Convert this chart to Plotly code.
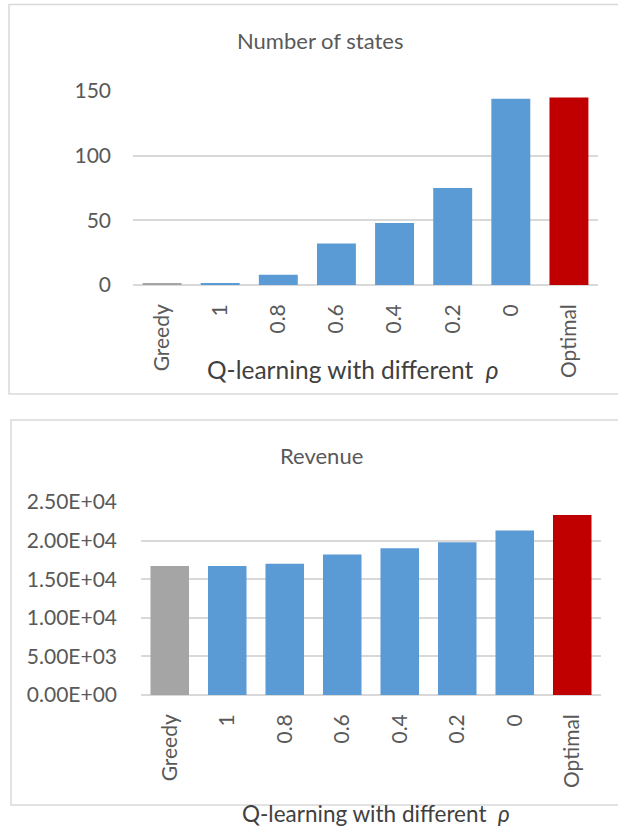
import plotly.graph_objects as go

# Categories along the x axis (Greedy, Q-learning for each rho, Optimal)
categories = ["Greedy", "1", "0.8", "0.6", "0.4", "0.2", "0", "Optimal"]

# Number of states visited by each method
num_states = [1, 1, 8, 32, 48, 75, 144, 145]

# Revenue achieved by each method
revenue = [16700, 16700, 17000, 18200, 19000, 19800, 21300, 23300]

# Tick values / labels for both value axes
states_ticks = [0, 50, 100, 150]
revenue_ticks = [0, 5000, 10000, 15000, 20000, 25000]
revenue_ticklabels = ["0.00E+00", "5.00E+03", "1.00E+04", "1.50E+04", "2.00E+04", "2.50E+04"]

W, H = 618, 830
BLUE, RED, GREY = "#5b9bd5", "#c00000", "#a5a5a5"
TXT = "#595959"
GRID = "#d9d9d9"
FONT = "Lato"

bar_colors = [GREY] + [BLUE] * 6 + [RED]


def px_x(v):
    return v / W


def px_y(v):
    return 1 - v / H


fig = go.Figure()
fig.add_trace(go.Bar(x=categories, y=num_states, marker_color=bar_colors,
                     marker_line_width=0, xaxis="x", yaxis="y", showlegend=False))
fig.add_trace(go.Bar(x=categories, y=revenue, marker_color=bar_colors,
                     marker_line_width=0, xaxis="x2", yaxis="y2", showlegend=False))

axis_common = dict(type="category", categoryorder="array", categoryarray=categories,
                   showgrid=False, zeroline=False, showline=False, ticks="",
                   automargin=False,
                   tickfont=dict(family=FONT, size=21, color=TXT), tickangle=-90,
                   ticklabelstandoff=14, fixedrange=True)
yaxis_common = dict(showgrid=True, gridcolor=GRID, gridwidth=1.5,
                    zeroline=True, zerolinecolor=GRID, zerolinewidth=1.5,
                    showline=False, ticks="", automargin=False,
                    tickfont=dict(family=FONT, size=21, color=TXT), fixedrange=True)

fig.update_layout(
    template="none",
    width=W, height=H,
    autosize=False,
    margin=dict(l=0, r=0, t=0, b=0, pad=0),
    paper_bgcolor="white", plot_bgcolor="white",
    bargap=0.33,
    xaxis=dict(domain=[px_x(133), px_x(598)], anchor="y", **axis_common),
    yaxis=dict(domain=[px_y(285), px_y(91)], range=[0, 150], anchor="x",
               tickvals=states_ticks, ticklabelstandoff=21, **yaxis_common),
    xaxis2=dict(domain=[px_x(141), px_x(601)], anchor="y2", **axis_common),
    yaxis2=dict(domain=[px_y(695), px_y(502)], range=[0, 25000], anchor="x2",
                tickvals=revenue_ticks, ticktext=revenue_ticklabels,
                ticklabelstandoff=23, **yaxis_common),
)

# Chart frames
fig.add_shape(type="rect", xref="paper", yref="paper",
              x0=px_x(9), x1=px_x(640), y0=px_y(394), y1=px_y(4.5),
              line=dict(color=GRID, width=1.5), fillcolor="rgba(0,0,0,0)", layer="below")
fig.add_shape(type="rect", xref="paper", yref="paper",
              x0=px_x(11), x1=px_x(640), y0=px_y(805), y1=px_y(420),
              line=dict(color=GRID, width=1.5), fillcolor="rgba(0,0,0,0)", layer="below")


# Titles and axis titles
def label(text, x, y, size, color=TXT, anchor="center"):
    fig.add_annotation(text=text, xref="paper", yref="paper", x=px_x(x), y=px_y(y),
                       xanchor=anchor, yanchor="middle", showarrow=False,
                       font=dict(family=FONT, size=size, color=color))


label("Number of states", 320, 40, 22)
label("Revenue", 321, 455, 22)
xtitle = "Q-learning with different&nbsp;&nbsp;<i>ρ</i>"
label(xtitle, 205, 369, 24.5, color="#404040", anchor="left")
label(xtitle, 240, 813, 22.5, color="#404040", anchor="left")

fig.write_html("out.html", config=dict(displayModeBar=False))
